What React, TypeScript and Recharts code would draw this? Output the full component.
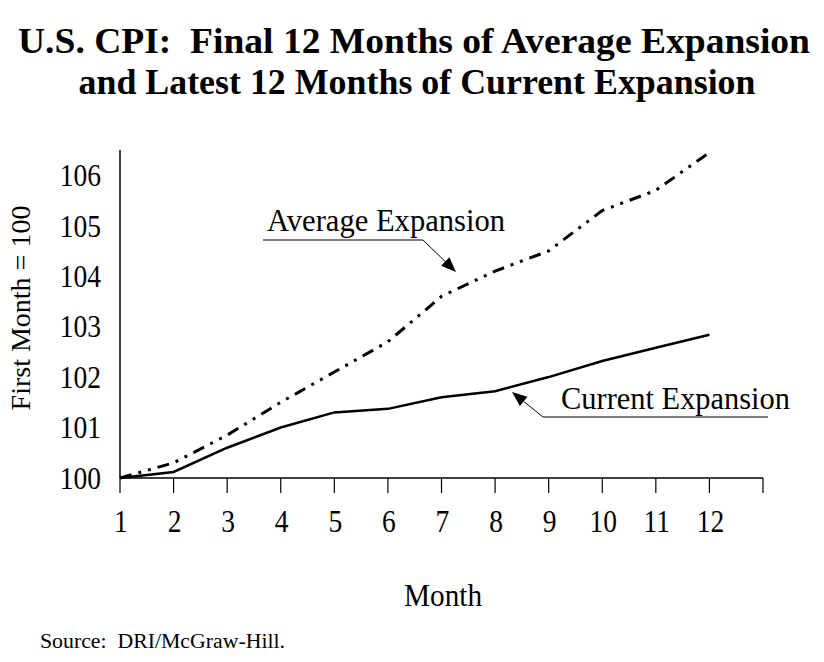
import React from 'react';
import { LineChart, Line, XAxis, YAxis } from 'recharts';

// CPI index, first month = 100
const months = [1, 2, 3, 4, 5, 6, 7, 8, 9, 10, 11, 12];
const averageExpansion = [100, 100.3, 100.85, 101.5, 102.1, 102.7, 103.6, 104.1, 104.5, 105.3, 105.7, 106.45];
const currentExpansion = [100, 100.12, 100.6, 101.0, 101.3, 101.37, 101.6, 101.72, 102.0, 102.32, 102.58, 102.84];
const xTicks = [1, 2, 3, 4, 5, 6, 7, 8, 9, 10, 11, 12, 13];
const yTicks = [100, 101, 102, 103, 104, 105, 106];

const data = months.map((m, i) => ({
  month: m,
  average: averageExpansion[i],
  current: currentExpansion[i],
}));

const FONT = '"Liberation Serif", "Times New Roman", serif';

const squeeze = (x: number, y: number, k: number) =>
  `translate(${x} ${y}) scale(${k} 1) translate(${-x} ${-y})`;

function YTick(props: any) {
  const { x, y, payload } = props;
  return (
    <text x={x} y={y} dy="0.34em" textAnchor="end" fontSize={32} fontFamily={FONT} fill="#000"
      transform={squeeze(x, y, 0.86)}>
      {payload.value}
    </text>
  );
}

function XTick(props: any) {
  const { x, y, payload } = props;
  if (payload.value > 12) return null;
  return (
    <text x={x + 1} y={y} dy={39} textAnchor="middle" fontSize={32} fontFamily={FONT} fill="#000"
      transform={squeeze(x + 1, y, 0.86)}>
      {payload.value}
    </text>
  );
}

function Arrow({ x1, y1, x2, y2 }: { x1: number; y1: number; x2: number; y2: number }) {
  const a = Math.atan2(y2 - y1, x2 - x1);
  const len = 15;
  const w = 6;
  const bx = x2 - len * Math.cos(a);
  const by = y2 - len * Math.sin(a);
  const px = -Math.sin(a) * w;
  const py = Math.cos(a) * w;
  return (
    <g>
      <line x1={x1} y1={y1} x2={bx} y2={by} stroke="#000" strokeWidth={1} />
      <polygon points={`${x2},${y2} ${bx + px},${by + py} ${bx - px},${by - py}`} fill="#000" />
    </g>
  );
}

export default function App() {
  return (
    <div style={{ position: 'absolute', left: 0, top: 0, width: 824, height: 662, background: '#fff' }}>
      <LineChart width={824} height={662} data={data} margin={{ top: 150, right: 61, bottom: 124, left: 20 }}>
        <XAxis
          dataKey="month"
          type="number"
          domain={[1, 13]}
          ticks={xTicks}
          interval={0}
          height={60}
          tickSize={15}
          tickMargin={0}
          axisLine={{ stroke: '#000', strokeWidth: 1.5 }}
          tickLine={{ stroke: '#000', strokeWidth: 1.2 }}
          tick={<XTick />}
        />
        <YAxis
          type="number"
          domain={[100, 106.5]}
          ticks={yTicks}
          interval={0}
          width={100}
          tickSize={0}
          tickMargin={19}
          axisLine={{ stroke: '#000', strokeWidth: 1.5 }}
          tickLine={false}
          tick={<YTick />}
        />
        <Line
          dataKey="average"
          type="linear"
          stroke="#000"
          strokeWidth={3}
          strokeDasharray="12 7 3 7 3 7"
          dot={false}
          activeDot={false}
          isAnimationActive={false}
        />
        <Line
          dataKey="current"
          type="linear"
          stroke="#000"
          strokeWidth={2.5}
          dot={false}
          activeDot={false}
          isAnimationActive={false}
        />
      </LineChart>

      <svg width={824} height={662} style={{ position: 'absolute', left: 0, top: 0, pointerEvents: 'none' }}>
        <g fontFamily={FONT} fill="#000">
          <text x={414} y={53} textAnchor="middle" fontSize={36} fontWeight="bold"
            textLength={792} lengthAdjust="spacingAndGlyphs" style={{ whiteSpace: 'pre' }}>
            {'U.S. CPI:  Final 12 Months of Average Expansion'}
          </text>
          <text x={417} y={94} textAnchor="middle" fontSize={36} fontWeight="bold"
            textLength={677} lengthAdjust="spacingAndGlyphs">
            and Latest 12 Months of Current Expansion
          </text>

          <text x={30} y={308} textAnchor="middle" fontSize={28} transform="rotate(-90 30 308)">
            First Month = 100
          </text>
          <text x={443} y={606} textAnchor="middle" fontSize={32}
            textLength={78} lengthAdjust="spacingAndGlyphs">
            Month
          </text>
          <text x={40} y={648} fontSize={20} textLength={245} lengthAdjust="spacingAndGlyphs"
            style={{ whiteSpace: 'pre' }}>
            {'Source:  DRI/McGraw-Hill.'}
          </text>

          <text x={267} y={231} fontSize={32} textLength={238} lengthAdjust="spacingAndGlyphs">
            Average Expansion
          </text>
          <text x={561} y={409} fontSize={32} textLength={229} lengthAdjust="spacingAndGlyphs">
            Current Expansion
          </text>
        </g>
        <line x1={263} y1={240} x2={423} y2={240} stroke="#000" strokeWidth={1.2} />
        <Arrow x1={423} y1={240} x2={456} y2={272} />
        <line x1={543} y1={417} x2={768} y2={417} stroke="#000" strokeWidth={1.2} />
        <Arrow x1={543} y1={417} x2={512} y2={392} />
      </svg>
    </div>
  );
}
